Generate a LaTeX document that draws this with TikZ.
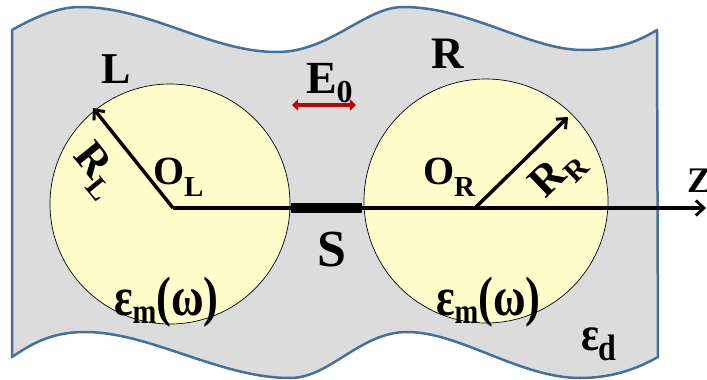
\documentclass[tikz,border=0pt]{standalone}
\usepackage{fontspec}
\setmainfont{Liberation Serif}
\usetikzlibrary{arrows.meta}
\definecolor{medgray}{HTML}{DCDCDC}
\definecolor{edgeblue}{HTML}{41719C}
\definecolor{sphere}{HTML}{FFFFCC}
\definecolor{fieldred}{HTML}{C00000}
\newcommand\fs[2]{{\fontsize{#1}{#1}\selectfont\bfseries #2}}
\newcommand\lbsub[5]{\fs{#1}{#2}\fs{#3}{\raisebox{-#5pt}{#4}}}
\tikzset{
  lbl/.style={inner sep=0pt, outer sep=0pt, anchor=base west},
  axisline/.style={line width=4pt, -{Straight Barb[length=8pt,width=15pt,line width=3pt]}},
  radiusarrow/.style={line width=3.5pt, -{Straight Barb[length=8pt,width=14pt,line width=3pt]}},
  sphereball/.style={fill=sphere, draw=black, line width=0.7pt}
}
\begin{document}
\begin{tikzpicture}[x=1pt,y=-1pt]
\useasboundingbox (0,0) rectangle (707,380);
% dielectric host
\path[fill=medgray, draw=edgeblue, line width=2.5pt, line join=round]
  (12,30) .. controls (35,17) and (58,7) .. (80,7)
  .. controls (150,7) and (210,52) .. (277,52)
  .. controls (330,52) and (365,7) .. (403,7)
  .. controls (470,7) and (530,50) .. (583,50)
  .. controls (620,50) and (640,40) .. (657,30)
  -- (658,357)
  .. controls (635,370) and (610,378) .. (580,378)
  .. controls (520,378) and (460,332) .. (407,332)
  .. controls (360,332) and (330,378) .. (290,378)
  .. controls (220,378) and (150,332) .. (85,332)
  .. controls (50,332) and (30,345) .. (12,357)
  -- cycle;
% spheres
\path[sphereball] (170,204) circle[radius=120];
\path[sphereball] (486,201) circle[radius=122];
% points
\coordinate (OL) at (173,208);
\coordinate (OR) at (475,208);
\coordinate (tipL) at (93,108);
\coordinate (tipR) at (568,117);
\coordinate (zend) at (706,208);
\coordinate (gapL) at (291,208);
\coordinate (gapR) at (362,208);
\coordinate (eL) at (292,105);
\coordinate (eR) at (356,105);
% axis and gap
\draw[axisline] (OL) -- (zend);
\draw[line width=10pt] (gapL) -- (gapR);
% radii
\draw[radiusarrow] (OL) -- (tipL);
\draw[radiusarrow] (OR) -- (tipR);
% field
\draw[fieldred, line width=4.5pt, {Triangle[length=6pt,width=11pt]}-{Triangle[length=6pt,width=11pt]}] (eL) -- (eR);
% labels
\node[lbl] (Llab) at (101,83) {\fs{44}{L}};
\node[lbl] (Rlab) at (431,68) {\fs{45}{R}};
\node[lbl] (E0lab) at (306,93) {\lbsub{46}{E}{32}{0}{9}};
\node[lbl] (Slab) at (317,266) {\fs{52}{S}};
\node[lbl] (OLlab) at (153,184) {\lbsub{40}{O}{29}{L}{12}};
\node[lbl] (ORlab) at (423,184) {\lbsub{40}{O}{29}{R}{12}};
\node[lbl] (Zlab) at (687,192) {\fs{36}{Z}};
\node[lbl] (emL) at (114,315) {\scalebox{0.95}[1.18]{\lbsub{46}{ε}{30}{m}{7}\fs{47}{(ω)}}};
\node[lbl] (emR) at (436,315) {\scalebox{0.95}[1.18]{\lbsub{46}{ε}{30}{m}{7}\fs{47}{(ω)}}};
\node[lbl] (edlab) at (581,350) {\scalebox{1}[1.15]{\lbsub{42}{ε}{32}{d}{9}}};
\node[inner sep=0pt, rotate=-51] (RLlab) at (96,171) {\lbsub{44}{R}{30}{L}{10}};
\node[inner sep=0pt, rotate=44] (RRlab) at (558,174) {\lbsub{44}{R}{30}{R}{10}};
\end{tikzpicture}
\end{document}
